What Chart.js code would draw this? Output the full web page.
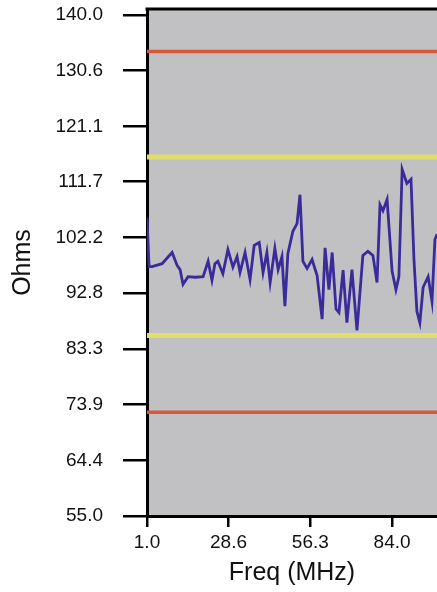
<!DOCTYPE html>
<html>
<head>
<meta charset="utf-8">
<script src="https://cdn.jsdelivr.net/npm/chart.js@4"></script>
<style>
  html, body { margin: 0; padding: 0; background: #fff; overflow: hidden; }
  canvas { display: block; }
</style>
</head>
<body>
<canvas id="c" width="437" height="592"></canvas>
<script>
// Sweep data
const freq = [1.0, 1.7, 2.7, 6.1, 9.5, 11.2, 12.2, 13.2, 14.9, 17.3, 20.0, 21.7, 23.0, 24.0, 25.0, 26.7,
  28.4, 30.1, 31.5, 32.5, 34.2, 35.9, 37.3, 39.0, 40.3, 41.6, 42.7, 44.3, 45.4, 46.7, 47.7, 48.7,
  50.4, 51.8, 52.8, 53.8, 55.2, 56.9, 58.6, 60.3, 61.3, 62.6, 63.7, 65.0, 66.0, 67.4, 68.7, 70.4,
  72.1, 74.1, 75.8, 77.5, 78.9, 79.9, 80.9, 82.3, 84.0, 85.3, 86.3, 87.4, 89.0, 90.4, 91.4, 92.4,
  93.4, 94.5, 96.2, 97.5, 98.5, 99.2];
const ohms = [105.6, 97.3, 97.3, 97.8, 99.7, 97.5, 96.8, 94.3, 95.6, 95.5, 95.6, 98.2, 95.0, 97.8, 98.2, 96.1,
  100.2, 97.2, 99.0, 96.3, 99.7, 95.1, 100.9, 101.4, 96.3, 99.7, 94.6, 100.4, 96.8, 99.0, 90.6, 99.5,
  103.3, 104.6, 109.5, 98.2, 97.0, 98.5, 95.8, 88.4, 100.5, 93.4, 99.7, 90.1, 89.5, 96.7, 87.8, 96.8,
  86.5, 99.2, 99.9, 99.2, 94.6, 107.8, 106.8, 108.7, 96.5, 93.4, 95.6, 113.8, 111.4, 112.1, 98.5, 89.7,
  87.8, 93.8, 95.6, 91.4, 101.9, 102.8];

// limit lines
const redLimits = [133.8, 72.6];
const yellowLimits = [115.9, 85.6];

// tick labels
const xTicks = [1.0, 28.6, 56.3, 84.0];
const yTicks = [55.0, 64.4, 73.9, 83.3, 92.8, 102.2, 111.7, 121.1, 130.6, 140.0];

const xMin = 1.0, xMax = 99.2;

function limitLine(v, color, width) {
  return {
    data: [{ x: xMin, y: v }, { x: xMax, y: v }],
    borderColor: color,
    borderWidth: width,
    pointRadius: 0,
    order: 2
  };
}

const plotBg = {
  id: 'plotBg',
  beforeDraw(chart) {
    const { ctx, chartArea: a } = chart;
    ctx.save();
    ctx.fillStyle = '#c1c1c3';
    ctx.fillRect(a.left, a.top, a.right - a.left, a.bottom - a.top);
    ctx.restore();
  },
  afterDraw(chart) {
    const { ctx, chartArea: a } = chart;
    ctx.save();
    ctx.strokeStyle = '#000';
    ctx.lineWidth = 3;
    ctx.beginPath();
    ctx.moveTo(a.left - 1.5, a.top);
    ctx.lineTo(a.right, a.top);
    ctx.stroke();
    ctx.restore();
  }
};

const font = 'Liberation Sans';

new Chart(document.getElementById('c'), {
  type: 'line',
  data: {
    datasets: [
      ...redLimits.map(v => limitLine(v, '#d9583a', 3.5)),
      ...yellowLimits.map(v => limitLine(v, '#e0de6c', 5)),
      {
        data: freq.map((f, i) => ({ x: f, y: ohms[i] })),
        borderColor: '#3a2b9a',
        borderWidth: 2.8,
        pointRadius: 0,
        tension: 0,
        order: 1
      }
    ]
  },
  options: {
    responsive: false,
    animation: false,
    layout: { padding: { top: 9, right: 0, left: 0, bottom: 0 } },
    plugins: { legend: { display: false }, tooltip: { enabled: false } },
    scales: {
      x: {
        type: 'linear',
        min: xMin,
        max: xMax,
        afterFit(s) { s.height = 76; s.paddingLeft = 0; s.paddingRight = 0; },
        afterBuildTicks(s) { s.ticks = xTicks.map(v => ({ value: v })); },
        ticks: {
          color: '#111',
          font: { family: font, size: 19 },
          padding: 4,
          maxRotation: 0,
          callback: v => v.toFixed(1)
        },
        grid: { drawOnChartArea: false, drawTicks: true, tickLength: 11, color: '#000', lineWidth: 2.5 },
        border: { display: true, color: '#000', width: 3 },
        title: {
          display: true,
          text: 'Freq (MHz)',
          color: '#111',
          font: { family: font, size: 25 },
          padding: { top: 0, bottom: 4 }
        }
      },
      y: {
        min: 55,
        max: 141,
        afterFit(s) { s.width = 147; s.paddingTop = 0; s.paddingBottom = 0; },
        afterBuildTicks(s) { s.ticks = yTicks.map(v => ({ value: v })); },
        ticks: {
          color: '#111',
          font: { family: font, size: 19 },
          padding: 20,
          callback: v => v.toFixed(1)
        },
        grid: { drawOnChartArea: false, drawTicks: true, tickLength: 24, color: '#000', lineWidth: 2.5 },
        border: { display: true, color: '#000', width: 3 },
        title: {
          display: true,
          text: 'Ohms',
          color: '#111',
          font: { family: font, size: 25 },
          padding: { top: 8, bottom: 0 }
        }
      }
    }
  },
  plugins: [plotBg]
});
</script>
</body>
</html>
